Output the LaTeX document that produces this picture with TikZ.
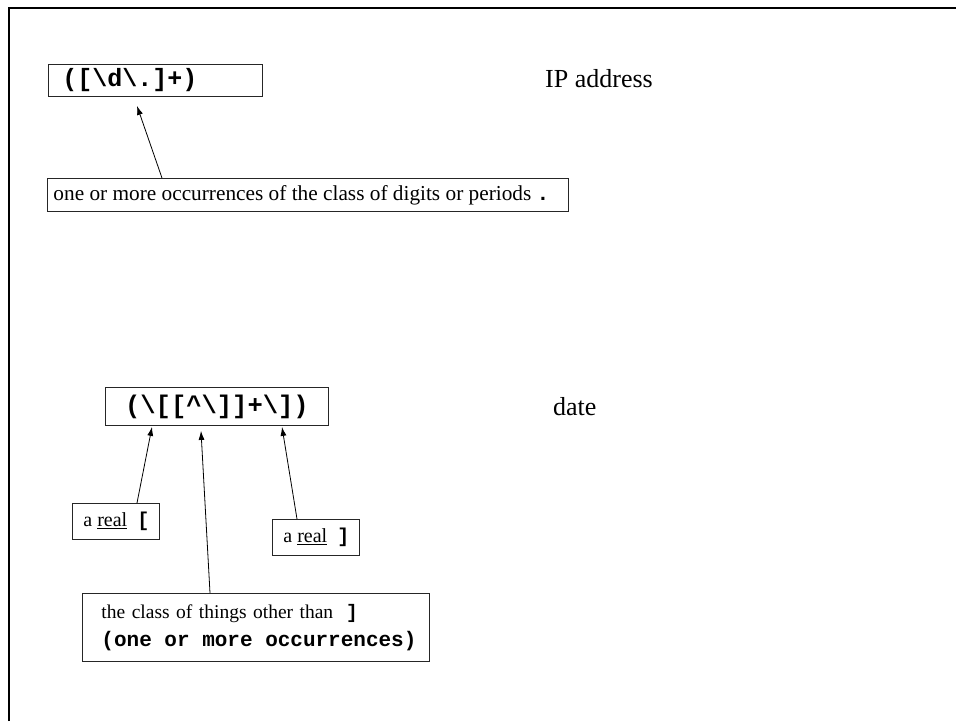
\documentclass[tikz,border=0pt]{standalone}
\usepackage{fontspec}
\setmainfont{Liberation Serif}
\setmonofont{Liberation Mono}
\usetikzlibrary{arrows.meta}

\begin{document}
\begin{tikzpicture}[x=1pt,y=-1pt,
  box/.style={draw=black!85, line width=0.9pt, rectangle, anchor=north west,
              inner sep=0pt, align=left},
  arr/.style={line width=0.8pt, -{Latex[length=9pt,width=6pt]}},
  side/.style={font=\fontsize{26}{30}\selectfont, anchor=base west, inner sep=0pt}
]
% bold monospaced pattern text with full-width spaces
\newcommand{\rx}[1]{{\ttfamily\bfseries\spaceskip=0.6em\relax #1}}
% box content: fixed width, left padding, text
\newcommand{\padbox}[3]{\makebox[#1][l]{\hspace*{#2}#3}}
\useasboundingbox (0,0) rectangle (956,721);

% slide frame
\draw[line width=2.2pt] (9,721) -- (9,8) -- (956,8);

% IP address pattern
\node[box, minimum height=32pt, font=\fontsize{25}{28}\selectfont] (ip) at (48,64)
  {\padbox{214pt}{14pt}{\rx{([\textbackslash d\textbackslash .]+)}}};
\node[side] (iplbl) at (545,87) {IP address};
\node[box, minimum height=33pt, font=\fontsize{21.3}{25}\selectfont] (ipnote) at (47,178)
  {\padbox{521pt}{6pt}{one or more occurrences of the class of digits or periods \rx{.}}};
\draw[arr] ([xshift=115pt]ipnote.north west) -- ([xshift=89pt,yshift=-9pt]ip.south west);

% date pattern
\node[box, minimum width=223pt, minimum height=38pt, align=center,
      font=\fontsize{25.5}{30}\selectfont] (dt) at (105,387)
  {\rx{(\textbackslash [[\textasciicircum\textbackslash ]]+\textbackslash ])}};
\node[side] (dtlbl) at (553,415) {date};

\node[box, minimum height=36pt, font=\fontsize{20}{24}\selectfont] (open) at (72,503)
  {\padbox{87pt}{11pt}{a \underline{real}~~\rx{[}}};
\node[box, minimum height=36pt, font=\fontsize{20}{24}\selectfont] (close) at (272,519)
  {\padbox{87pt}{11pt}{a \underline{real}~~\rx{]}}};
\node[box, minimum height=68pt, text width=347pt, font=\fontsize{19.5}{28}\selectfont] (cls) at (82,593)
  {\hspace*{19pt}the class of things other than~~\rx{]}\\
   \hspace*{19pt}{\fontsize{21}{28}\selectfont\rx{(one or more occurrences)}}};

\draw[arr] ([xshift=65pt]open.north west) -- ([xshift=47pt,yshift=-1pt]dt.south west);
\draw[arr] ([xshift=128pt]cls.north west) -- ([xshift=96pt,yshift=-5pt]dt.south west);
\draw[arr] ([xshift=25pt]close.north west) -- ([xshift=177pt,yshift=-1pt]dt.south west);
\end{tikzpicture}
\end{document}
